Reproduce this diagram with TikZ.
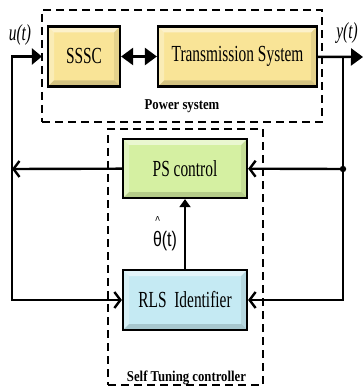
\documentclass[tikz,border=0pt]{standalone}
\usepackage{fontspec}
\usepackage{tikz}
\usetikzlibrary{arrows.meta}
\newfontfamily\blockfont[FakeStretch=0.67]{Liberation Serif}
\newfontfamily\tagfont[FakeStretch=0.85]{Liberation Serif}
\newfontfamily\sigfont[FakeStretch=0.76]{Liberation Sans}
\definecolor{plantyellow}{RGB}{249,228,151}
\definecolor{ctrlgreen}{RGB}{213,240,162}
\definecolor{idblue}{RGB}{197,234,243}

\begin{document}
\begin{tikzpicture}[x=1pt,y=-1pt,>={Triangle[length=12pt,width=17pt]},
                    chev/.tip={Straight Barb[length=6pt,width=16pt]},
                    sig/.style={line width=2.4pt},
                    thinsig/.style={line width=1.8pt}]

  \tikzstyle{bevel}=[path picture={
    \fill[white,opacity=.5] (path picture bounding box.north west) -- (path picture bounding box.north east)
      -- ([shift={(-6pt,-6pt)}]path picture bounding box.north east) -- ([shift={(6pt,-6pt)}]path picture bounding box.north west) -- cycle;
    \fill[white,opacity=.3] (path picture bounding box.north west) -- (path picture bounding box.south west)
      -- ([shift={(6pt,6pt)}]path picture bounding box.south west) -- ([shift={(6pt,-6pt)}]path picture bounding box.north west) -- cycle;
    \fill[black,opacity=.15] (path picture bounding box.south west) -- (path picture bounding box.south east)
      -- ([shift={(-6pt,6pt)}]path picture bounding box.south east) -- ([shift={(6pt,6pt)}]path picture bounding box.south west) -- cycle;
    \fill[black,opacity=.08] (path picture bounding box.north east) -- (path picture bounding box.south east)
      -- ([shift={(-6pt,6pt)}]path picture bounding box.south east) -- ([shift={(-6pt,-6pt)}]path picture bounding box.north east) -- cycle;
  }]
  \tikzstyle{block}=[draw,line width=2.2pt,inner sep=0pt,minimum height=60pt,bevel,
                     font=\blockfont\fontsize{23}{27}\selectfont]
  \tikzstyle{frame}=[draw,line width=1.8pt,dash pattern=on 8pt off 5pt,inner sep=0pt]
  \tikzstyle{tag}=[anchor=base,font=\tagfont\bfseries\fontsize{15}{18}\selectfont]

  \useasboundingbox (0,0) rectangle (363,387);

  % dashed groups
  \node[frame,minimum width=280pt,minimum height=112pt] (psys) at (182,66)    {};
  \node[frame,minimum width=155pt,minimum height=256pt] (stc)  at (185.5,257) {};
  \node[tag] (psystag) at (182,110)   {Power system};
  \node[tag] (stctag)  at (186.5,381.5) {Self Tuning controller};

  \node[block,fill=plantyellow,minimum width=72pt]  (sssc)  at (84,56.5)    {SSSC};
  \node[block,fill=plantyellow,minimum width=159pt] (trans) at (237.5,56.5) {Transmission System};
  \node[block,fill=ctrlgreen,minimum width=124pt,minimum height=59pt] (psc) at (185,168.5) {PS control};
  \node[block,fill=idblue,minimum width=124pt]      (rls)   at (185,300)    {RLS\ \ Identifier};

  \coordinate (ufork) at (12,169);
  \coordinate (yfork) at (343,57);
  \coordinate (ytap)  at (343,169);
  \coordinate (yout)  at (363,57);

  \draw[sig,<->] (sssc) -- (trans);
  \draw[sig,->]  (trans) -- (yout);
  \draw[sig,-chev] (yfork) |- (rls.east);
  \fill (ytap) circle (3.2pt);
  \draw[sig,-chev] (ytap) -- (psc);
  \draw[sig,-chev] (psc) -- (ufork);
  \draw[sig,-{Triangle[length=10pt,width=16pt]},shorten >=5pt] (ufork) |- (sssc.west);
  \draw[sig,-chev] (ufork) |- (rls.west);
  \draw[thinsig,-{Triangle[length=8pt,width=11pt]}] (rls) -- (psc);

  \node[anchor=base,font=\blockfont\itshape\fontsize{23}{27}\selectfont] (ulbl) at (20,41)  {u(t)};
  \node[anchor=base,font=\blockfont\itshape\fontsize{23}{27}\selectfont] (ylbl) at (347,39) {y(t)};
  \node[anchor=base,font=\sigfont\fontsize{21}{25}\selectfont] (thlbl) at (165,246)
    {\rlap{\hspace{2.3pt}\raisebox{20.5pt}{\fontsize{13}{13}\selectfont\textasciicircum}}θ(t)};
\end{tikzpicture}
\end{document}
